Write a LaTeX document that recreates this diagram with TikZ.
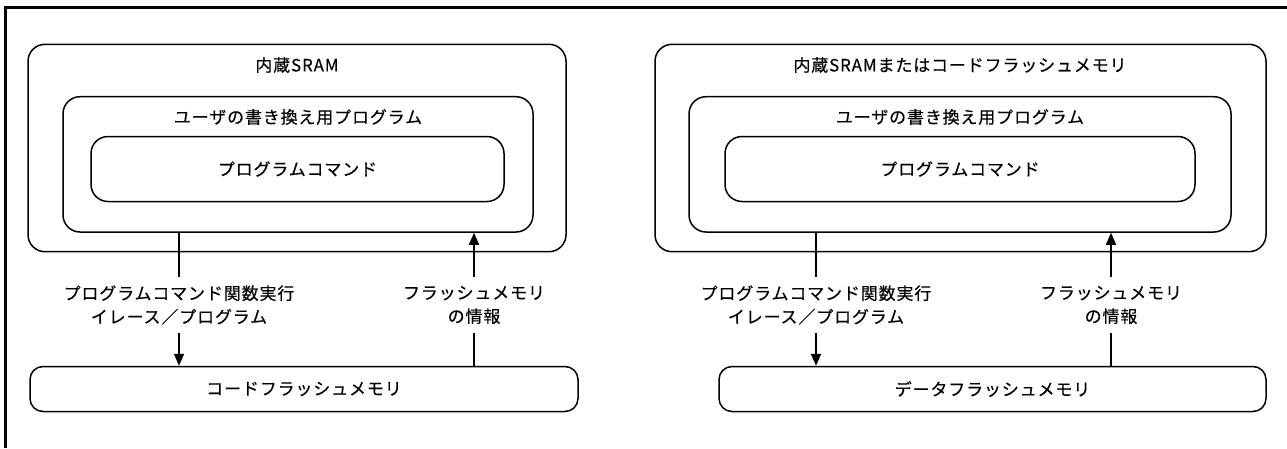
\documentclass[tikz,border=0pt]{standalone}
\usepackage{fontspec}
\setmainfont{Noto Sans CJK JP}[LetterSpace=5,FakeBold=0.3]
\usetikzlibrary{arrows.meta}
\begin{document}
\begin{tikzpicture}[x=1pt,y=-1pt,
  box/.style={draw,line width=1.5pt,rounded corners=17pt,inner sep=0pt},
  flashbox/.style={draw,line width=1.5pt,rounded corners=13pt,inner sep=0pt,font=\fontsize{17}{23.5}\selectfont},
  txt/.style={inner sep=0pt,font=\fontsize{17}{23.5}\selectfont},
  lbl/.style={align=center,inner sep=0pt,minimum height=55pt,font=\fontsize{17}{23.5}\selectfont},
  conn/.style={line width=1.5pt},
  arr/.style={conn,-{Triangle[width=10pt,length=12pt]}}]
\useasboundingbox (0,0) rectangle (1287,448);
% frame
\draw[line width=2.7pt] (5.3,448) -- (5.3,7.3) -- (1287,7.3);
% left diagram
\node[box,minimum width=538pt,minimum height=207.4pt] (sramL) at (297,148) {};
\node[box,minimum width=470pt,minimum height=135.3pt] (midL) at (298,164.35) {};
\node[box,minimum width=413pt,minimum height=65pt] (innL) at (297.5,169) {};
\node[txt] (tSramL) at (297,65) {内蔵SRAM};
\node[txt] (tMidL) at (298,117) {ユーザの書き換え用プログラム};
\node[txt] (tInnL) at (innL.center) {プログラムコマンド};
\node[flashbox,minimum width=548pt,minimum height=45pt] (codeL) at (304,389) {コードフラッシュメモリ};
\node[lbl] (lblLA) at (179,305) {プログラムコマンド関数実行\\イレース／プログラム};
\node[lbl] (lblLB) at (474,305) {フラッシュメモリ\\の情報};
\draw[conn] (midL.south -| lblLA) -- (lblLA.north);
\draw[arr] (lblLA.south) -- (codeL.north -| lblLA);
\draw[conn] (codeL.north -| lblLB) -- (lblLB.south);
\draw[arr] (lblLB.north) -- (midL.south -| lblLB);
% right diagram
\node[box,minimum width=611pt,minimum height=207.4pt] (sramR) at (960.5,148) {};
\node[box,minimum width=542pt,minimum height=135.3pt] (midR) at (960,164.35) {};
\node[box,minimum width=470pt,minimum height=65pt] (innR) at (960,169) {};
\node[txt] (tSramR) at (960,65) {内蔵SRAMまたはコードフラッシュメモリ};
\node[txt] (tMidR) at (960,117) {ユーザの書き換え用プログラム};
\node[txt] (tInnR) at (innR.center) {プログラムコマンド};
\node[flashbox,minimum width=547pt,minimum height=45pt] (dataR) at (992.5,389) {データフラッシュメモリ};
\node[lbl] (lblRA) at (816,305) {プログラムコマンド関数実行\\イレース／プログラム};
\node[lbl] (lblRB) at (1111,305) {フラッシュメモリ\\の情報};
\draw[conn] (midR.south -| lblRA) -- (lblRA.north);
\draw[arr] (lblRA.south) -- (dataR.north -| lblRA);
\draw[conn] (dataR.north -| lblRB) -- (lblRB.south);
\draw[arr] (lblRB.north) -- (midR.south -| lblRB);
\end{tikzpicture}
\end{document}
